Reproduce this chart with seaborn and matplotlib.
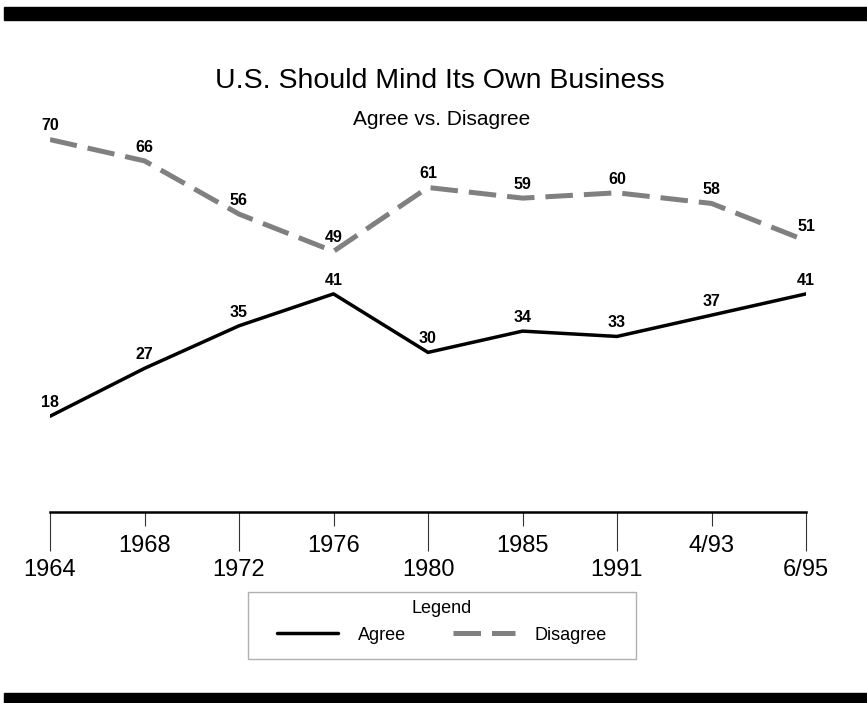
import numpy as np
import pandas as pd
import matplotlib
matplotlib.use("Agg")
import matplotlib.pyplot as plt
from matplotlib.patches import Rectangle
import seaborn as sns

# Data
periods = ["1964", "1968", "1972", "1976", "1980", "1985", "1991", "4/93", "6/95"]
agree = [18, 27, 35, 41, 30, 34, 33, 37, 41]
disagree = [70, 66, 56, 49, 61, 59, 60, 58, 51]

sns.set_style("white")
plt.rcParams["font.family"] = ["Liberation Sans", "DejaVu Sans"]
plt.rcParams["text.color"] = "black"
plt.rcParams["xtick.color"] = "black"

pos = np.arange(len(periods))
df = pd.DataFrame({"pos": pos, "Agree": agree, "Disagree": disagree})

fig = plt.figure(figsize=(8.67, 7.03), dpi=100)
ax = fig.add_axes([50 / 867, 1 - 512 / 703, 756 / 867, (512 - 113) / 703])

sns.lineplot(data=df, x="pos", y="Agree", ax=ax, color="black", lw=2.5,
             label="Agree")
sns.lineplot(data=df, x="pos", y="Disagree", ax=ax, color="#808080", lw=3.6,
             label="Disagree")
ax.lines[1].set_dashes([5.5, 2.2])
ax.lines[1].set_dash_capstyle("butt")

# point labels
for series in (agree, disagree):
    for x, v in zip(pos, series):
        ax.annotate(str(v), (x, v), xytext=(0, 4.5), textcoords="offset points",
                    ha="center", va="bottom", fontsize=11.5, fontweight="bold")

ax.set_xlim(0, len(periods) - 1)
ax.set_ylim(0, 75)
ax.set_xlabel("")
ax.set_ylabel("")
ax.set_yticks([])
for s in ["top", "left", "right"]:
    ax.spines[s].set_visible(False)
ax.spines["bottom"].set_linewidth(1.8)
ax.spines["bottom"].set_color("black")

# alternating tick rows
ax.set_xticks(pos[::2], [periods[i] for i in pos[::2]])
ax.set_xticks(pos[1::2], [periods[i] for i in pos[1::2]], minor=True)
ax.tick_params(axis="x", which="major", bottom=True, length=28, width=0.8,
               color="#333333", pad=6.1, labelsize=17, labelcolor="black",
               direction="out")
ax.tick_params(axis="x", which="minor", bottom=True, length=10, width=0.8,
               color="#333333", pad=6.8, labelsize=17, labelcolor="black",
               direction="out")

# legend
handles, labels = ax.get_legend_handles_labels()
leg = ax.legend(handles, labels, title="Legend", ncol=2, frameon=False,
                loc="center", bbox_to_anchor=(442 / 867, 1 - 622 / 703),
                bbox_transform=fig.transFigure, fontsize=13, title_fontsize=13,
                handlelength=3.4, handletextpad=1.1, columnspacing=2.6,
                labelcolor="black")
fig.patches.append(Rectangle((248 / 867, 1 - 659 / 703), 388 / 867, 67 / 703,
                             transform=fig.transFigure, fill=False,
                             edgecolor="#b0b0b0", lw=1))

# titles
fig.text(440 / 867, 1 - 88 / 703, "U.S. Should Mind Its Own Business",
         ha="center", va="baseline", fontsize=20.5)
fig.text(442 / 867, 1 - 125 / 703, "Agree vs. Disagree",
         ha="center", va="baseline", fontsize=15)

# black bars top and bottom
fig.patches.append(Rectangle((4 / 867, 1 - 20 / 703), 863 / 867, 13 / 703,
                             transform=fig.transFigure, color="black"))
fig.patches.append(Rectangle((4 / 867, 0), 863 / 867, 10 / 703,
                             transform=fig.transFigure, color="black"))

fig.savefig("out.png", dpi=100)
